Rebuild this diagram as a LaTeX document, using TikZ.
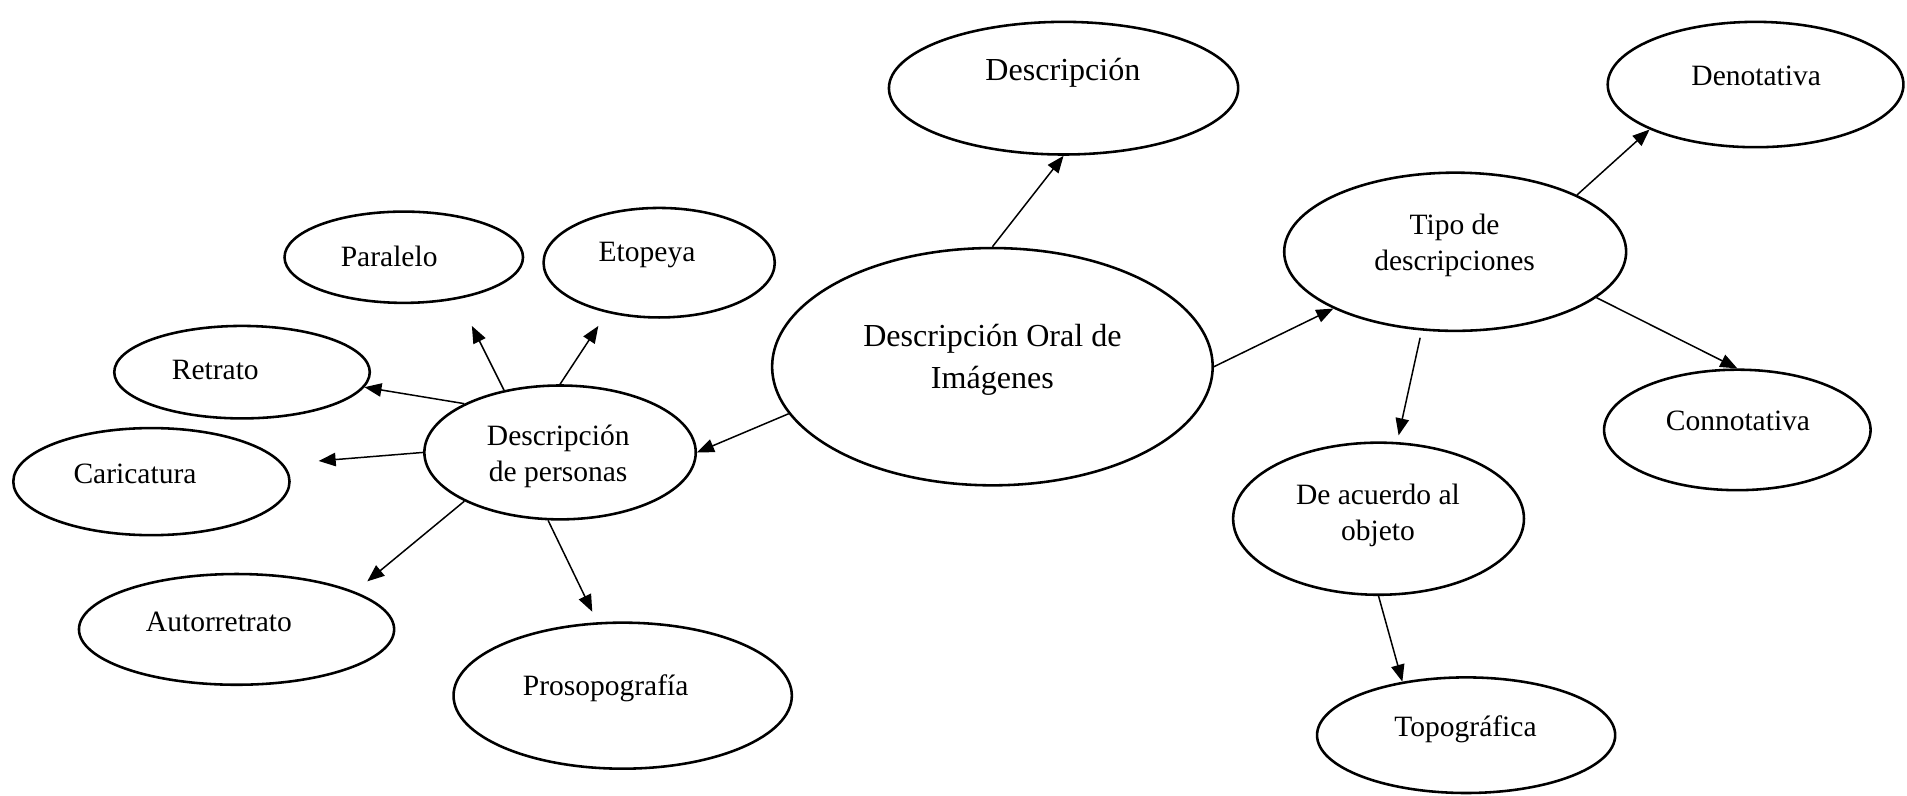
\documentclass[tikz,border=0pt]{standalone}
\usepackage{fontspec}
\setmainfont{Liberation Serif}
\usetikzlibrary{shapes.geometric,arrows.meta}

\begin{document}
\begin{tikzpicture}[x=0.01cm, y=-0.01cm,
    oval/.style={ellipse, draw, line width=0.6pt, inner sep=0pt},
    big/.style={font=\fontsize{7.5}{9.7}\selectfont, align=center, inner sep=0pt},
    small/.style={font=\fontsize{6.9}{8.4}\selectfont, align=center, inner sep=0pt},
    link/.style={-{Triangle[length=1.4mm, width=1.1mm]}, line width=0.35pt}]
    \useasboundingbox (0,0) rectangle (1568,654);

    % ovals
    \node[oval, minimum width=2.87cm, minimum height=1.09cm] (desc) at (874.5,72.5) {};
    \node[oval, minimum width=3.62cm, minimum height=1.95cm] (main) at (816,301.5) {};
    \node[oval, minimum width=2.81cm, minimum height=1.30cm] (tipo) at (1196.5,207) {};
    \node[oval, minimum width=2.43cm, minimum height=1.03cm] (deno) at (1443.5,69.5) {};
    \node[oval, minimum width=2.19cm, minimum height=0.99cm] (conno) at (1428.5,353.5) {};
    \node[oval, minimum width=2.39cm, minimum height=1.25cm] (acuerdo) at (1133.5,426.5) {};
    \node[oval, minimum width=2.45cm, minimum height=0.95cm] (topo) at (1205.5,604.5) {};
    \node[oval, minimum width=2.23cm, minimum height=1.10cm] (pers) at (460.5,372) {};
    \node[oval, minimum width=1.96cm, minimum height=0.75cm] (paral) at (332,211.5) {};
    \node[oval, minimum width=1.90cm, minimum height=0.90cm] (etop) at (542,216) {};
    \node[oval, minimum width=2.10cm, minimum height=0.76cm] (retr) at (199,306) {};
    \node[oval, minimum width=2.27cm, minimum height=0.88cm] (cari) at (124.5,396) {};
    \node[oval, minimum width=2.59cm, minimum height=0.91cm] (auto) at (194.5,517.5) {};
    \node[oval, minimum width=2.78cm, minimum height=1.20cm] (proso) at (512,572) {};

    % texts
    \node[big] (desc-t) at (874,60) {Descripción};
    \node[big] (main-t) at (816,296) {Descripción Oral de\\Imágenes};
    \node[small] (tipo-t) at (1196,202) {Tipo de\\descripciones};
    \node[small] (deno-t) at (1444,62) {Denotativa};
    \node[small] (conno-t) at (1429,346) {Connotativa};
    \node[small] (acuerdo-t) at (1133,424) {De acuerdo al\\objeto};
    \node[small] (topo-t) at (1205,600) {Topográfica};
    \node[small] (pers-t) at (459,375) {Descripción\\de personas};
    \node[small] (paral-t) at (320,211) {Paralelo};
    \node[small] (etop-t) at (532,210) {Etopeya};
    \node[small] (retr-t) at (177,304) {Retrato};
    \node[small] (cari-t) at (111,390) {Caricatura};
    \node[small] (auto-t) at (180,511) {Autorretrato};
    \node[small] (proso-t) at (498,566) {Prosopografía};

    % free arrow ends
    \coordinate (paral-in) at (388,268);
    \coordinate (etop-in) at (492,268);
    \coordinate (cari-in) at (262,379);
    \coordinate (auto-in) at (302,478);
    \coordinate (proso-in) at (487,503);
    \coordinate (acuerdo-in) at (1150,358);

    % arrows
    \draw[link] (main.north) -- (desc.south);
    \draw[link] (main.east) -- (tipo.205);
    \draw[link] (main.193) -- (pers.east);
    \draw[link] (tipo.25) -- (deno.203);
    \draw[link] (tipo.342) -- (conno.north);
    \draw[link, shorten <=0.06cm] (tipo.247) -- (acuerdo-in);
    \draw[link] (acuerdo.south) -- (topo.140);
    \draw[link] (pers.132) -- (paral-in);
    \draw[link] (pers.north) -- (etop-in);
    \draw[link] (pers.153) -- (retr.353);
    \draw[link] (pers.west) -- (cari-in);
    \draw[link] (pers.207) -- (auto-in);
    \draw[link] (pers.260) -- (proso-in);
\end{tikzpicture}
\end{document}
